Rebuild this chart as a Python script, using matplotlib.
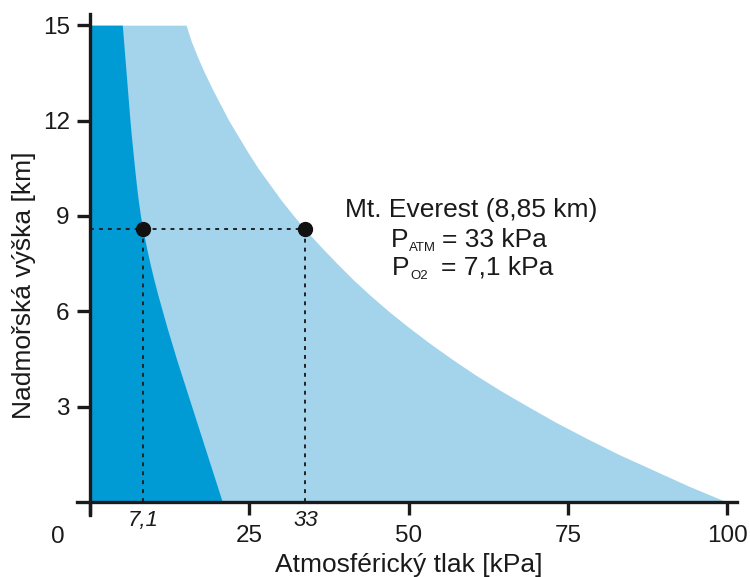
import matplotlib.pyplot as plt

plt.rcParams["font.family"] = ["Liberation Sans", "DejaVu Sans"]

# values (altitude in km, pressure in kPa)
altitude_km = [0, 0.5, 1, 1.5, 2, 2.5, 3, 3.5, 4, 4.5, 5, 5.5, 6, 6.5, 7, 7.5,
               8, 8.5, 9, 9.5, 10, 10.5, 11, 11.5, 12, 12.5, 13, 13.5, 14, 14.5, 15]
p_atm_kpa = [100, 94, 88.5, 83, 78, 73.2, 68.8, 64.5, 60.5, 56.8, 53.3, 50.0, 46.9,
             44.0, 41.3, 38.8, 36.4, 34.1, 32.0, 30.0, 28.2, 26.4, 24.8, 23.3, 21.8,
             20.5, 19.2, 18.0, 16.9, 15.9, 15.1]
p_o2_kpa = [20.8, 20.0, 19.2, 18.4, 17.6, 16.8, 16.0, 15.2, 14.4, 13.6, 12.85, 12.1,
            11.4, 10.7, 10.05, 9.45, 8.9, 8.4, 7.95, 7.6, 7.3, 7.03, 6.78, 6.53, 6.3,
            6.1, 5.9, 5.7, 5.5, 5.3, 5.1]

everest_alt = 8.6
everest_atm = 33.7
everest_o2 = 8.4

x_ticks = [0, 25, 50, 75, 100]
x_tick_labels = ["", "25", "50", "75", "100"]
y_ticks = [3, 6, 9, 12, 15]

dark_blue = "#009bd5"
light_blue = "#a3d4ec"
ink = "#1a1a1a"

fig = plt.figure(figsize=(7.5, 5.77), dpi=100)
ax = fig.add_axes([0.1027, 0.1075, 0.88, 0.8682])

ax.fill_betweenx(altitude_km, 0, p_atm_kpa, color=light_blue, lw=0)
ax.fill_betweenx(altitude_km, 0, p_o2_kpa, color=dark_blue, lw=0)

# Everest guide lines and points
dash = (0, (2, 2.6))
ax.plot([0, everest_atm], [everest_alt, everest_alt], color="#222222", lw=1.4, ls=dash)
ax.plot([everest_o2, everest_o2], [0, everest_alt], color="#222222", lw=1.4, ls=dash)
ax.plot([everest_atm, everest_atm], [0, everest_alt], color="#222222", lw=1.4, ls=dash)
ax.plot([everest_o2, everest_atm], [everest_alt, everest_alt], "o", color="#111111", ms=10)

ax.set_xlim(-2, 101.5)
ax.set_ylim(-0.4, 15.35)

for side in ["top", "right"]:
    ax.spines[side].set_visible(False)
ax.spines["left"].set_position(("data", 0))
ax.spines["bottom"].set_position(("data", 0))
for side in ["left", "bottom"]:
    ax.spines[side].set_linewidth(2.4)
    ax.spines[side].set_color(ink)

ax.set_xticks(x_ticks)
ax.set_xticklabels(x_tick_labels)
ax.set_yticks(y_ticks)
ax.tick_params(axis="both", direction="out", length=9.5, width=2.4, color=ink,
               labelsize=17.5, labelcolor=ink)
ax.tick_params(axis="x", pad=7)
ax.tick_params(axis="y", pad=5)

# origin label and marked values on the x axis
ax.text(-5.0, -1.08, "0", ha="center", va="center", fontsize=17.5, color=ink, clip_on=False)
ax.text(everest_o2, -0.58, "7,1", ha="center", va="center", fontsize=16, style="italic",
        color=ink, clip_on=False)
ax.text(everest_atm + 0.2, -0.58, "33", ha="center", va="center", fontsize=16, style="italic",
        color=ink, clip_on=False)

ax.set_xlabel("Atmosférický tlak [kPa]", fontsize=19, color=ink)
ax.set_ylabel("Nadmořská výška [km]", fontsize=19, color=ink)
ax.xaxis.set_label_coords(0.503, -0.076)
ax.yaxis.set_label_coords(-0.062, 0.459)

# annotation
ax.text(59.8, 9.2, "Mt. Everest (8,85 km)", ha="center", va="center", fontsize=19, color=ink)
ax.text(47.2, 8.03, "P", ha="left", va="baseline", fontsize=19, color=ink)
ax.text(50.0, 7.90, "ATM", ha="left", va="baseline", fontsize=9.5, color=ink)
ax.text(55.3, 8.03, "= 33 kPa", ha="left", va="baseline", fontsize=19, color=ink)
ax.text(47.4, 7.15, "P", ha="left", va="baseline", fontsize=19, color=ink)
ax.text(50.2, 7.02, "O2", ha="left", va="baseline", fontsize=9.5, color=ink)
ax.text(55.0, 7.15, "= 7,1 kPa", ha="left", va="baseline", fontsize=19, color=ink)

fig.savefig("out.png", dpi=100)
